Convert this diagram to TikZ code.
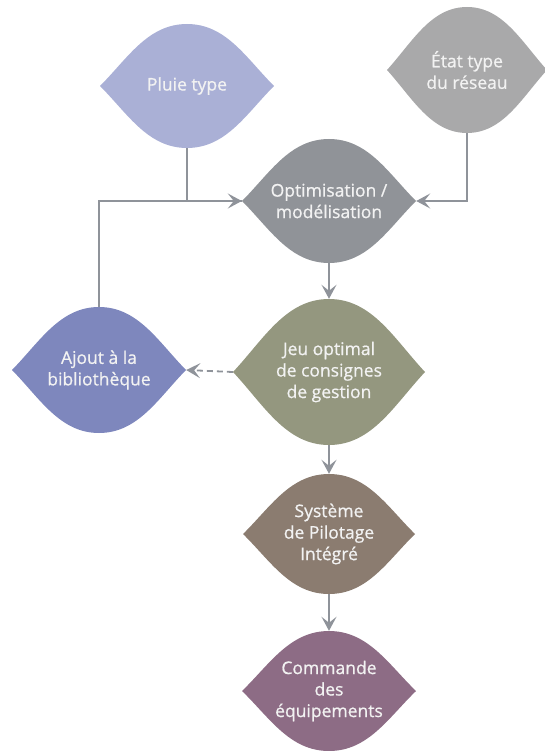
\documentclass[tikz,border=0pt]{standalone}
\usepackage{fontspec}
\setmainfont{Open Sans}
\newfontfamily\leaffont[FakeBold=0.7]{Open Sans}
\usetikzlibrary{arrows.meta}
\definecolor{cpluie}{HTML}{AAB0D6}
\definecolor{cetat}{HTML}{A9A9AA}
\definecolor{coptim}{HTML}{909398}
\definecolor{cajout}{HTML}{7E87BD}
\definecolor{cjeu}{HTML}{94977F}
\definecolor{csys}{HTML}{8B7C70}
\definecolor{ccmd}{HTML}{8D6C85}
\definecolor{cline}{HTML}{8F939A}
\definecolor{ctext}{HTML}{F2F2F2}
\tikzset{
  leafbox/.style={inner sep=0pt, align=center, text=ctext,
    font=\leaffont\fontsize{17.5}{21.5}\selectfont},
  conn/.style={draw=cline, line width=1.8pt,
    -{Stealth[length=14pt, width=15pt, inset=6pt]}},
  plainconn/.style={draw=cline, line width=1.8pt},
}
% #1 name, #2 cx, #3 cy, #4 half width, #5 half height, #6 colour, #7 text
\newcommand\leafnode[7]{%
  \fill[#6] ({#2-#4},#3)
    .. controls ({#2-0.68*#4},{#3-0.45*#5}) and ({#2-0.45*#4},{#3-#5}) .. (#2,{#3-#5})
    .. controls ({#2+0.45*#4},{#3-#5}) and ({#2+0.68*#4},{#3-0.45*#5}) .. ({#2+#4},#3)
    .. controls ({#2+0.68*#4},{#3+0.45*#5}) and ({#2+0.45*#4},{#3+#5}) .. (#2,{#3+#5})
    .. controls ({#2-0.45*#4},{#3+#5}) and ({#2-0.68*#4},{#3+0.45*#5}) .. cycle;
  \node[leafbox, minimum width=#4*2pt, minimum height=#5*2pt] (#1) at (#2,#3) {#7};%
}
\begin{document}
\begin{tikzpicture}[x=1pt, y=-1pt]
\useasboundingbox (0,0) rectangle (545,751);
\leafnode{pluie}{187}{86}{87}{62}{cpluie}{Pluie type}
\leafnode{etat}{467}{70}{80}{63}{cetat}{État type\\du réseau}
\leafnode{optim}{329}{201}{87}{62}{coptim}{Optimisation /\\modélisation}
\leafnode{ajout}{99}{370}{87}{63}{cajout}{Ajout à la\\bibliothèque}
\leafnode{jeu}{329}{372}{96}{73}{cjeu}{Jeu optimal\\de consignes\\de gestion}
\leafnode{sys}{329}{534}{86}{60}{csys}{Système\\de Pilotage\\Intégré}
\leafnode{cmd}{329}{691}{87}{60}{ccmd}{Commande\\des\\équipements}
\draw[plainconn] (pluie.south) |- (optim.west);
\draw[conn] (ajout.north) |- (optim.west);
\draw[conn] (etat.south) |- (optim.east);
\draw[conn] (optim.south) -- (jeu.north);
\draw[conn, dashed, dash pattern=on 6pt off 4pt] (jeu.west) -- (ajout.east);
\draw[conn] (jeu.south) -- (sys.north);
\draw[conn] (sys.south) -- (cmd.north);
\end{tikzpicture}
\end{document}
